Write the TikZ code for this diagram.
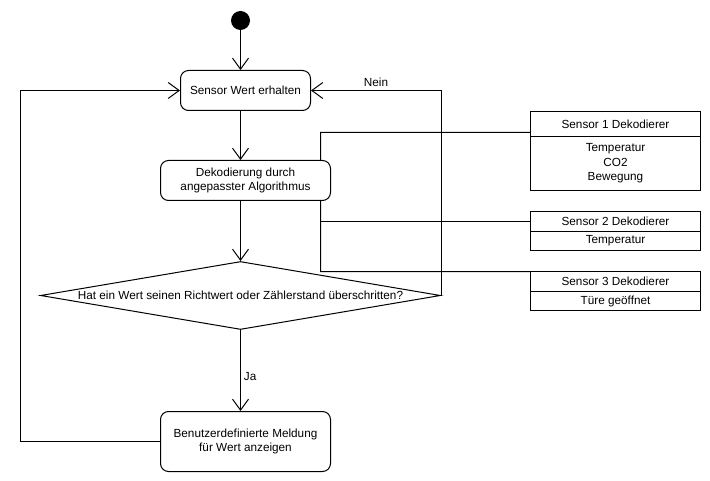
\documentclass[tikz,border=0pt]{standalone}
\usepackage{fontspec}
\setmainfont{Liberation Sans}
\usetikzlibrary{arrows.meta, shapes.geometric, positioning}

\begin{document}
\begin{tikzpicture}[
            x=1bp, y=-1bp,
            line width=1bp,
            every node/.style={font=\fontsize{11.8}{14.5}\selectfont},
            schritt/.style={draw, rounded corners=8bp, fill=white, align=center, inner sep=0pt},
            start/.style={circle, fill=black, minimum size=19bp, inner sep=0pt},
            frage/.style={diamond, draw, fill=white, minimum width=400bp, minimum height=68bp, inner sep=0pt},
            kopf/.style={draw, fill=white, minimum width=170bp, inner sep=0pt, outer sep=0pt},
            inhalt/.style={draw, fill=white, minimum width=170bp, inner sep=0pt, outer sep=0pt, align=center},
            pfeil/.style={-{Straight Barb[length=11bp, width=16bp]}}
        ]

        \useasboundingbox (0,0) rectangle (710,481);

        % sensor decoders
        \node[kopf, minimum height=25bp] (s1kopf) at (615.5,124) {Sensor 1 Dekodierer};
        \node[inhalt, minimum height=54bp, below=0pt of s1kopf] (s1inhalt) {Temperatur\\CO2\\Bewegung};

        \node[kopf, minimum height=20bp] (s2kopf) at (615.5,221.5) {Sensor 2 Dekodierer};
        \node[inhalt, minimum height=19bp, below=0pt of s2kopf] (s2inhalt) {Temperatur};

        \node[kopf, minimum height=20bp] (s3kopf) at (615.5,281.5) {Sensor 3 Dekodierer};
        \node[inhalt, minimum height=19bp, below=0pt of s3kopf] (s3inhalt) {Türe geöffnet};

        % bracket to decoders (drawn before the flow, so it runs behind it)
        \coordinate (k1) at (320.5,132.5);
        \coordinate (k2) at (320.5,221.5);
        \coordinate (k3) at (320.5,271.5);
        \draw (k1 -| s1kopf.west) -- (k1) -- (k3) -- (s3kopf.north west);
        \draw (k2) -- (s2kopf.west);

        % flow nodes
        \node[start] (start) at (240.5,20.5) {};
        \node[schritt, minimum width=130bp, minimum height=40bp] (erhalten) at (245.5,90.5) {Sensor Wert erhalten};
        \node[schritt, minimum width=170bp, minimum height=40bp] (dekod) at (245.5,180.5) {Dekodierung durch\\angepasster Algorithmus};
        \node[frage] (frage) at (240.5,295.5) {};
        \node at (frage) {Hat ein Wert seinen Richtwert oder Zählerstand überschritten?};
        \node[schritt, minimum width=170bp, minimum height=60bp] (meldung) at (245.5,441.5) {Benutzerdefinierte Meldung\\für Wert anzeigen};

        % edges
        \draw[pfeil] (start) -- (start |- erhalten.north);
        \draw[pfeil] (start |- erhalten.south) -- (start |- dekod.north);
        \draw[pfeil] (start |- dekod.south) -- (frage.north);
        \draw[pfeil] (frage.south) -- (frage.south |- meldung.north)
            node[pos=0.57, right, inner sep=3pt] {Ja};
        \draw[pfeil] (frage.east) |- (erhalten.east)
            node[pos=0.75, above, inner sep=3pt] {Nein};

        \coordinate (rueck) at (20.5,441.5);
        \draw[pfeil] (meldung.west) -- (rueck) |- (erhalten.west);
    \end{tikzpicture}
\end{document}
